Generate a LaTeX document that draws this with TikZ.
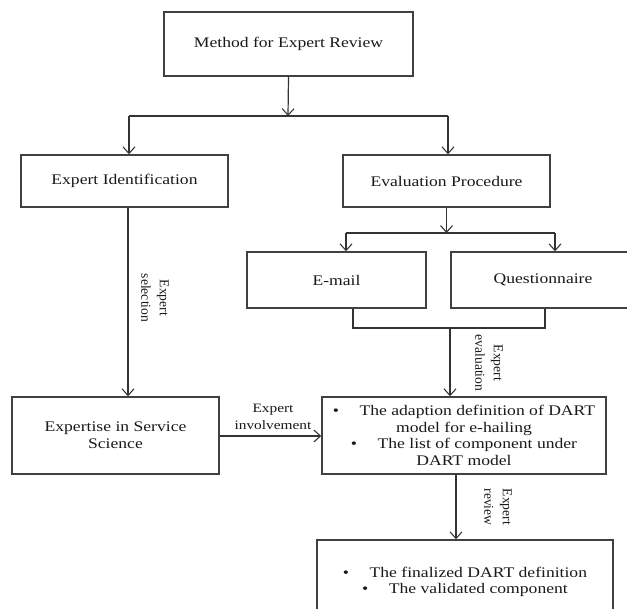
\documentclass[tikz,border=0pt]{standalone}
\usepackage{fontspec}
\setmainfont{Liberation Serif}[FakeStretch=1.2]
\newfontfamily\rotfont{Liberation Serif}
\usetikzlibrary{arrows.meta}
\begin{document}
\begin{tikzpicture}[x=0.75pt,y=-0.75pt,
  box/.style={draw=black!75, line width=1.1pt, align=center, inner sep=0pt,
    font=\fontsize{11}{12.5}\selectfont, text=black!90},
  arr/.style={-{Straight Barb[length=5pt,width=9pt,line width=0.8pt]}, draw=black!80, line width=0.9pt},
  ln/.style={draw=black!80, line width=0.9pt},
  lbl/.style={align=center, inner sep=0pt, font=\fontsize{9.6}{12.5}\selectfont, text=black!90},
  rlbl/.style={align=center, inner sep=0pt, rotate=-90, font=\rotfont\fontsize{10.2}{14}\selectfont, text=black!90}]
\useasboundingbox (0,0) rectangle (627,608);
\clip (0,0) rectangle (627,608);
\fill[white] (0,0) rectangle (627,608);

\node[box, minimum width=249*0.75pt, minimum height=64*0.75pt] (method) at (288.5,44) {Method for Expert Review};
\node[box, minimum width=207*0.75pt, minimum height=52*0.75pt] (expid) at (124.5,181) {Expert Identification};
\node[box, minimum width=207*0.75pt, minimum height=52*0.75pt] (eval) at (446.5,181) {Evaluation Procedure};
\node[box, minimum width=179*0.75pt, minimum height=56*0.75pt] (email) at (336.5,280) {E-mail};
\node[box, minimum width=184*0.75pt, minimum height=56*0.75pt] (quest) at (543,280) {Questionnaire};
\node[box, minimum width=207*0.75pt, minimum height=77*0.75pt] (expertise) at (115.5,435.5) {Expertise in Service\\Science};
\node[box, minimum width=284*0.75pt, minimum height=77*0.75pt] (dart) at (464,435.5)
  {\textbullet\hspace{1.4em}The adaption definition of DART\\model for e-hailing\\\textbullet\hspace{1.4em}The list of component under\\DART model};
\node[box, minimum width=296*0.75pt, minimum height=84*0.75pt] (final) at (465,582)
  {\textbullet\hspace{1.4em}The finalized DART definition\\\textbullet\hspace{1.4em}The validated component};

% top split
\coordinate (j1) at (288,116);
\coordinate (j1l) at (129,116);
\coordinate (j1r) at (448,116);
\draw[arr] (method.south) -- (j1);
\draw[ln] (j1l) -- (j1r);
\draw[arr] (j1l) -- (j1l |- expid.north);
\draw[arr] (j1r) -- (j1r |- eval.north);

% evaluation split
\coordinate (j2) at (446.5,233);
\coordinate (j2l) at (346,233);
\coordinate (j2r) at (555,233);
\draw[arr] (eval.south) -- (j2);
\draw[ln] (j2l) -- (j2r);
\draw[arr] (j2l) -- (j2l |- email.north);
\draw[arr] (j2r) -- (j2r |- quest.north);

% merge
\coordinate (m1) at (353,328);
\coordinate (m2) at (545,328);
\coordinate (j3) at (450,328);
\draw[ln] (m1 |- email.south) -- (m1) -- (m2) -- (m2 |- quest.south);
\draw[arr] (j3) -- (j3 |- dart.north);
\node[rlbl] (lev) at (489,363) {Expert\\evaluation};

% left column
\coordinate (e1) at (128,207);
\draw[arr] (e1 |- expid.south) -- (e1 |- expertise.north);
\node[rlbl] (lsel) at (155,298) {Expert\\selection};

% involvement
\draw[arr] (expertise.east |- 0,436) -- (dart.west |- 0,436);
\node[lbl] (linv) at (273,417) {Expert\\involvement};

% review
\coordinate (r1) at (456,474);
\draw[arr] (r1 |- dart.south) -- (r1 |- final.north);
\node[rlbl] (lrev) at (498,507) {Expert\\review};
\end{tikzpicture}
\end{document}
